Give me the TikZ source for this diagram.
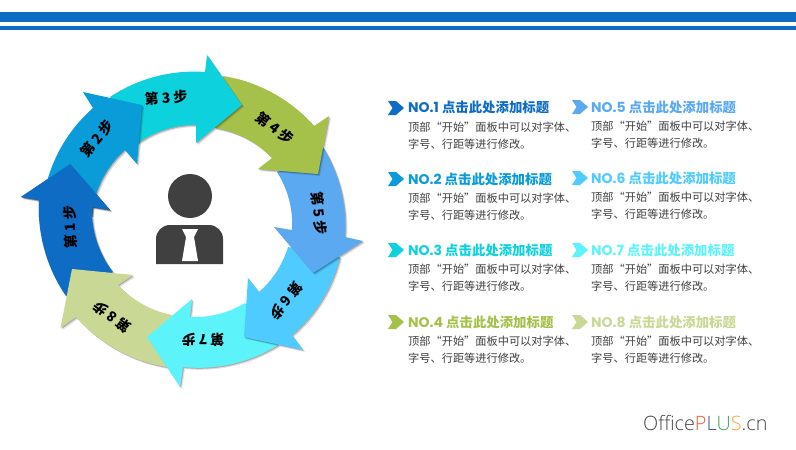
\documentclass[tikz,border=0pt]{standalone}
\usepackage{fontspec}
\usetikzlibrary{shadows}
\newfontfamily\cjk{Noto Sans CJK SC}
\newfontfamily\nofont{Poppins}
\newfontfamily\logofont{Open Sans}[UprightFont=* Light]
\definecolor{cone}{HTML}{0F6CC4}
\definecolor{ctwo}{HTML}{0A9BD9}
\definecolor{cthree}{HTML}{0DD2DD}
\definecolor{cfour}{HTML}{A5C14A}
\definecolor{cfive}{HTML}{5BA9F1}
\definecolor{csix}{HTML}{4FCBFF}
\definecolor{cseven}{HTML}{5DF3FA}
\definecolor{ceight}{HTML}{C9D995}
\definecolor{cbody}{HTML}{404040}
\tikzset{
  arrowpart/.style={looseness=0.87,general shadow={shadow xshift=2pt,shadow yshift=-2pt,fill=black,opacity=.12},
    general shadow={shadow xshift=1pt,shadow yshift=-1pt,fill=black,opacity=.22}},
  steplabel/.style={inner sep=0pt,font=\cjk\bfseries\fontsize{14}{16}\selectfont,text=black},
  headtext/.style={anchor=west,inner sep=0pt,font=\cjk\bfseries\fontsize{13.4}{15}\selectfont},
  bodytext/.style={anchor=west,inner sep=0pt,align=left,text=cbody,font=\cjk\fontsize{11.2}{17.2}\selectfont},
}
\begin{document}
\begin{tikzpicture}[x=1pt,y=1pt]
    \useasboundingbox (0,0) rectangle (796,-450);
    \fill [white] (0,0) rectangle (796,-450);
    \fill [cone] (0,-11.5) rectangle (796,-22);
    \fill [cone] (0,-26) rectangle (796,-30);
    % ring, each head lies on the tail of the next one
    \fill [cone, arrowpart] (66,-296) to [bend left=19] (39,-200) -- (21,-197) -- (70,-164) -- (110,-210) -- (92,-207) to [bend right=20] (113,-272) -- cycle;
    \fill [ceight, arrowpart] (167,-367) to [bend left=20] (76,-317) -- (60.5,-328) -- (72,-269) -- (133,-275) -- (118,-285) to [bend right=18] (172,-315) -- cycle;
    \fill [cseven, arrowpart] (278,-345) to [bend left=19] (183,-367) -- (180,-387) -- (147,-337) -- (192,-299) -- (190,-317) to [bend right=17] (245,-303) -- cycle;
    \fill [csix, arrowpart] (340,-257) to [bend left=18] (292,-335) -- (303,-350) -- (244,-337) -- (248,-278) -- (259,-292) to [bend right=16] (288,-247) -- cycle;
    \fill [cfive, arrowpart] (323,-147) to [bend left=18] (345,-237) -- (363,-241) -- (313,-273) -- (274,-227) -- (292,-230) to [bend right=18] (277,-172) -- cycle;
    \fill [cfour, arrowpart] (223,-76) to [bend left=20] (314,-126) -- (329,-116) -- (318,-174) -- (258,-169) -- (272,-158) to [bend right=19] (215,-128) -- cycle;
    \fill [cthree, arrowpart] (110,-97) to [bend left=19] (205,-72) -- (207,-55) -- (242,-105) -- (196,-143) -- (196,-125) to [bend right=18] (138,-143) -- cycle;
    \fill [ctwo, arrowpart] (48,-178) to [bend left=16] (93,-108) -- (83,-92) -- (142,-105) -- (137,-164) -- (125,-150) to [bend right=21] (92,-213) -- cycle;
    % the head of the first arrow goes back over the second one
    \begin{scope}
    \clip (0,-100) rectangle (150,-216);
    \fill [cone, arrowpart] (66,-296) to [bend left=19] (39,-200) -- (21,-197) -- (70,-164) -- (110,-210) -- (92,-207) to [bend right=20] (113,-272) -- cycle;
    \end{scope}
    \node [steplabel, rotate=92] (stepone) at (70,-227) {第 1 步};
    \node [steplabel, rotate=50] (steptwo) at (97,-139) {第 2 步};
    \node [steplabel, rotate=3] (stepthree) at (166,-98) {第 3 步};
    \node [steplabel, rotate=-38] (stepfour) at (275,-128) {第 4 步};
    \node [steplabel, rotate=-83] (stepfive) at (319,-213) {第 5 步};
    \node [steplabel, rotate=-129] (stepsix) at (286,-301) {第 6 步};
    \node [steplabel, rotate=180] (stepseven) at (203,-340) {第 7 步};
    \node [steplabel, rotate=142] (stepeight) at (112,-317) {第 8 步};
    % person
    \fill [cbody] (190,-196) circle (22);
    \fill [cbody] (156,-264) -- (156,-239) arc (180:90:14) -- (209,-225) arc (90:0:14) -- (223,-264) -- cycle;
    \fill [white] (182,-229) -- (198,-229) -- (194,-237) -- (198,-261) -- (182,-261) -- (186,-237) -- cycle;
    % left column
    \fill [cone] (388,-101) -- (396,-101) -- (404,-108) -- (396,-115) -- (388,-115) -- (392.5,-108) -- cycle;
    \fill [ctwo] (388,-172) -- (396,-172) -- (404,-179) -- (396,-186) -- (388,-186) -- (392.5,-179) -- cycle;
    \fill [cthree] (388,-243) -- (396,-243) -- (404,-250) -- (396,-257) -- (388,-257) -- (392.5,-250) -- cycle;
    \fill [cfour] (388,-315) -- (396,-315) -- (404,-322) -- (396,-329) -- (388,-329) -- (392.5,-322) -- cycle;
    \node [headtext, text=cone] (headone) at (408,-107) {{\nofont\fontsize{14}{15}\selectfont NO.1} 点击此处添加标题};
    \node [headtext, text=ctwo] (headtwo) at (408,-179) {{\nofont\fontsize{14}{15}\selectfont NO.2} 点击此处添加标题};
    \node [headtext, text=cthree] (headthree) at (408,-250) {{\nofont\fontsize{14}{15}\selectfont NO.3} 点击此处添加标题};
    \node [headtext, text=cfour] (headfour) at (408,-322) {{\nofont\fontsize{14}{15}\selectfont NO.4} 点击此处添加标题};
    \node [bodytext] (bodyone) at (408,-135.5) {顶部“开始”面板中可以对字体、\\字号、行距等进行修改。};
    \node [bodytext] (bodytwo) at (408,-206.5) {顶部“开始”面板中可以对字体、\\字号、行距等进行修改。};
    \node [bodytext] (bodythree) at (408,-278) {顶部“开始”面板中可以对字体、\\字号、行距等进行修改。};
    \node [bodytext] (bodyfour) at (408,-349.5) {顶部“开始”面板中可以对字体、\\字号、行距等进行修改。};
    % right column
    \fill [cfive] (572,-100) -- (580,-100) -- (588,-107) -- (580,-114) -- (572,-114) -- (576.5,-107) -- cycle;
    \fill [csix] (572,-171) -- (580,-171) -- (588,-178) -- (580,-185) -- (572,-185) -- (576.5,-178) -- cycle;
    \fill [cseven] (572,-243) -- (580,-243) -- (588,-250) -- (580,-257) -- (572,-257) -- (576.5,-250) -- cycle;
    \fill [ceight] (572,-315) -- (580,-315) -- (588,-322) -- (580,-329) -- (572,-329) -- (576.5,-322) -- cycle;
    \node [headtext, text=cfive] (headfive) at (591,-107) {{\nofont\fontsize{14}{15}\selectfont NO.5} 点击此处添加标题};
    \node [headtext, text=csix] (headsix) at (591,-178) {{\nofont\fontsize{14}{15}\selectfont NO.6} 点击此处添加标题};
    \node [headtext, text=cseven] (headseven) at (591,-250) {{\nofont\fontsize{14}{15}\selectfont NO.7} 点击此处添加标题};
    \node [headtext, text=ceight] (headeight) at (591,-322) {{\nofont\fontsize{14}{15}\selectfont NO.8} 点击此处添加标题};
    \node [bodytext] (bodyfive) at (591,-134.5) {顶部“开始”面板中可以对字体、\\字号、行距等进行修改。};
    \node [bodytext] (bodysix) at (591,-206) {顶部“开始”面板中可以对字体、\\字号、行距等进行修改。};
    \node [bodytext] (bodyseven) at (591,-278) {顶部“开始”面板中可以对字体、\\字号、行距等进行修改。};
    \node [bodytext] (bodyeight) at (591,-349.5) {顶部“开始”面板中可以对字体、\\字号、行距等进行修改。};
    % logo
    \node [anchor=west, inner sep=0pt, font=\logofont\fontsize{19.8}{22}\selectfont, text=black!72] (logo) at (643,-423) {Office\textcolor[HTML]{F0592B}{P}\textcolor[HTML]{2F4FA0}{L}\textcolor[HTML]{3DA35A}{U}\textcolor[HTML]{F5A83C}{S}.cn};
\end{tikzpicture}
\end{document}
